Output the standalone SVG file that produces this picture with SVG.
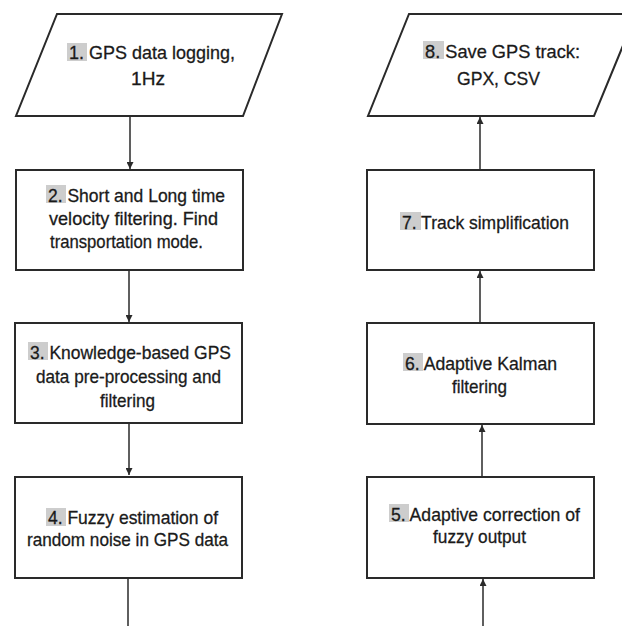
<svg xmlns="http://www.w3.org/2000/svg" width="622" height="626" viewBox="0 0 622 626">
<style>
.shape{fill:#fff;stroke:#2a2a2a;stroke-width:2}
.t{font-family:"Liberation Sans",Arial,sans-serif;font-size:19px;fill:#1a1a1a;stroke:#1a1a1a;stroke-width:0.3}
.num{fill:#cdcdcd}
.conn{stroke:#2a2a2a;stroke-width:1.5;fill:none}
</style>
<defs>
<marker id="ah" viewBox="0 0 10 10" refX="10" refY="5" markerWidth="7" markerHeight="7" markerUnits="userSpaceOnUse" orient="auto">
<path d="M0,0 L10,5 L0,10 z" fill="#2a2a2a"/>
</marker>
</defs>
<rect width="622" height="626" fill="#fff"/>
<g id="connectors">
<line class="conn" x1="130" y1="116" x2="130" y2="169" marker-end="url(#ah)"/>
<line class="conn" x1="129" y1="270" x2="129" y2="322" marker-end="url(#ah)"/>
<line class="conn" x1="129" y1="423" x2="129" y2="475" marker-end="url(#ah)"/>
<line class="conn" x1="128" y1="578" x2="128" y2="626"/>
<line class="conn" x1="483" y1="626" x2="483" y2="579" marker-end="url(#ah)"/>
<line class="conn" x1="482" y1="477" x2="482" y2="425" marker-end="url(#ah)"/>
<line class="conn" x1="480" y1="323" x2="480" y2="271" marker-end="url(#ah)"/>
<line class="conn" x1="480" y1="169" x2="480" y2="117" marker-end="url(#ah)"/>
</g>
<g id="node1">
<polygon class="shape" points="57,14 282,14 243,116 16,116"/>
<rect class="num" x="67" y="43" width="20" height="18"/>
<text class="t" x="69" y="59" textLength="166" lengthAdjust="spacingAndGlyphs">1. GPS data logging,</text>
<text class="t" x="148" y="85" text-anchor="middle" textLength="34" lengthAdjust="spacingAndGlyphs">1Hz</text>
</g>
<g id="node2">
<rect class="shape" x="16" y="170" width="227" height="100"/>
<rect class="num" x="46" y="185" width="20" height="18"/>
<text class="t" x="48" y="202" textLength="177" lengthAdjust="spacingAndGlyphs">2. Short and Long time</text>
<text class="t" x="49" y="225" textLength="169" lengthAdjust="spacingAndGlyphs">velocity filtering. Find</text>
<text class="t" x="50" y="248" textLength="153" lengthAdjust="spacingAndGlyphs">transportation mode.</text>
</g>
<g id="node3">
<rect class="shape" x="15" y="323" width="227" height="100"/>
<rect class="num" x="28" y="342" width="20" height="18"/>
<text class="t" x="30" y="359" textLength="201" lengthAdjust="spacingAndGlyphs">3. Knowledge-based GPS</text>
<text class="t" x="36" y="383" textLength="185" lengthAdjust="spacingAndGlyphs">data pre-processing and</text>
<text class="t" x="100" y="407" textLength="55" lengthAdjust="spacingAndGlyphs">filtering</text>
</g>
<g id="node4">
<rect class="shape" x="15" y="477" width="227" height="101"/>
<rect class="num" x="46" y="508" width="20" height="18"/>
<text class="t" x="48" y="524" textLength="170" lengthAdjust="spacingAndGlyphs">4. Fuzzy estimation of</text>
<text class="t" x="27" y="546" textLength="201" lengthAdjust="spacingAndGlyphs">random noise in GPS data</text>
</g>
<g id="node5">
<rect class="shape" x="367" y="477" width="227" height="101"/>
<rect class="num" x="389" y="504" width="20" height="18"/>
<text class="t" x="391" y="521" textLength="189" lengthAdjust="spacingAndGlyphs">5. Adaptive correction of</text>
<text class="t" x="433" y="543" textLength="93" lengthAdjust="spacingAndGlyphs">fuzzy output</text>
</g>
<g id="node6">
<rect class="shape" x="367" y="323" width="227" height="101"/>
<rect class="num" x="403" y="353" width="20" height="18"/>
<text class="t" x="405" y="370" textLength="152" lengthAdjust="spacingAndGlyphs">6. Adaptive Kalman</text>
<text class="t" x="452" y="393" textLength="55" lengthAdjust="spacingAndGlyphs">filtering</text>
</g>
<g id="node7">
<rect class="shape" x="367" y="170" width="227" height="100"/>
<rect class="num" x="400" y="212" width="21" height="18"/>
<text class="t" x="402" y="229" textLength="167" lengthAdjust="spacingAndGlyphs">7. Track simplification</text>
</g>
<g id="node8">
<polygon class="shape" points="409,14 636,14 594,116 368,116"/>
<rect class="num" x="423" y="41" width="21" height="18"/>
<text class="t" x="425" y="58" textLength="155" lengthAdjust="spacingAndGlyphs">8. Save GPS track:</text>
<text class="t" x="457" y="85" textLength="83" lengthAdjust="spacingAndGlyphs">GPX, CSV</text>
</g>
</svg>
